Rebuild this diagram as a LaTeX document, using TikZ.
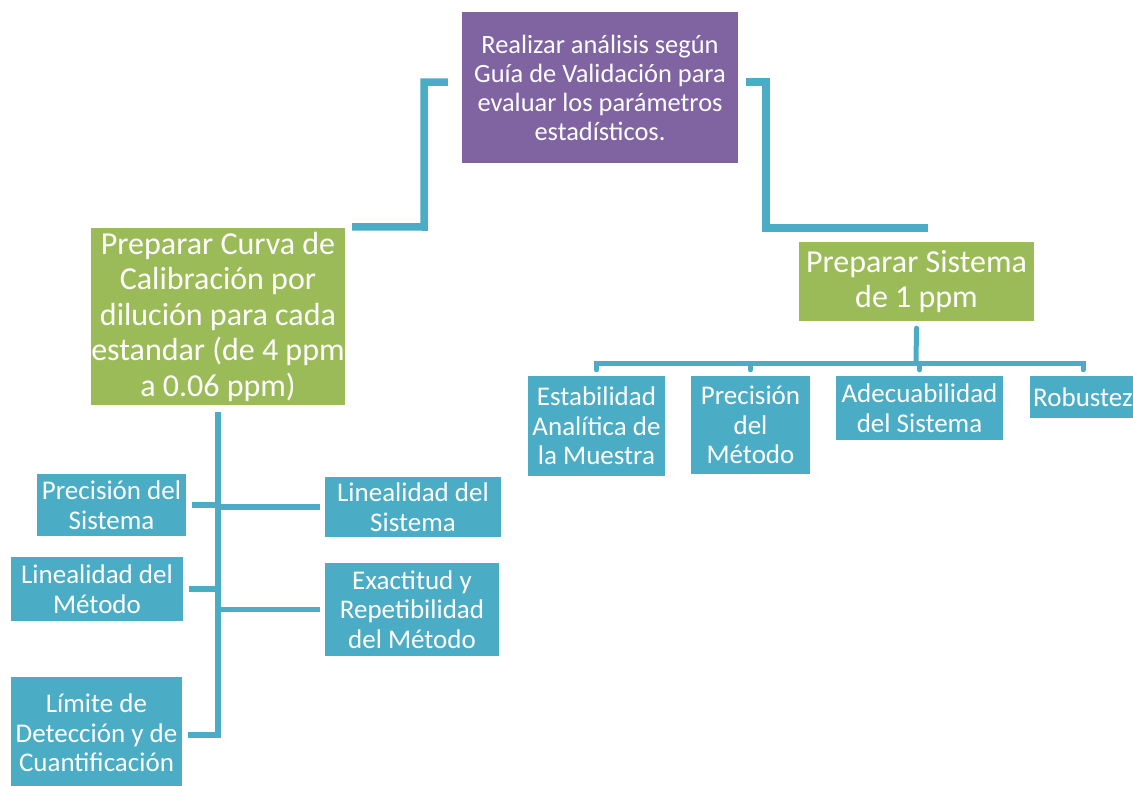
\documentclass[tikz,border=0pt]{standalone}
\usepackage{fontspec}
\setmainfont{Carlito}
\usepackage{tikz}
\usetikzlibrary{positioning, calc}
\definecolor{morado}{HTML}{8064A2}
\definecolor{verde}{HTML}{9BBB59}
\definecolor{aqua}{HTML}{4BACC6}

\begin{document}
\begin{tikzpicture}[x=1pt, y=-1pt,
    caja/.style={fill=aqua, text=white, align=center, inner sep=0pt,
        font=\fontsize{27}{29.5}\selectfont},
    cajaverde/.style={caja, fill=verde, font=\fontsize{32}{35.5}\selectfont},
    cajamorada/.style={caja, fill=morado, font=\fontsize{26.4}{29}\selectfont},
    conector/.style={draw=aqua, line width=7.5pt},
    rama/.style={draw=aqua, line width=5.5pt},
    ramader/.style={draw=aqua, line width=5pt, line cap=round}]
\useasboundingbox (0,0) rectangle (1133,785);

\node[cajamorada, minimum width=276pt, minimum height=151pt] (guia) at (600,87.5)
    {Realizar análisis según\\Guía de Validación para\\evaluar los parámetros\\estadísticos.};
\node[cajaverde, minimum width=254pt, minimum height=177pt] (curva) at (218,316.5)
    {Preparar Curva de\\Calibración por\\dilución para cada\\estandar (de 4 ppm\\a 0.06 ppm)};
\node[cajaverde, minimum width=235pt, minimum height=79pt] (sistema) at (916.5,281.5)
    {Preparar Sistema\\de 1 ppm};

% rama izquierda
\node[caja, minimum width=149pt, minimum height=62pt] (precsis) at (111.5,505) {Precisión del\\Sistema};
\node[caja, minimum width=176pt, minimum height=60pt] (linsis) at (413,507) {Linealidad del\\Sistema};
\node[caja, minimum width=172pt, minimum height=64pt] (linmet) at (97,589) {Linealidad del\\Método};
\node[caja, minimum width=174pt, minimum height=93pt] (exact) at (412,609.5) {Exactitud y\\Repetibilidad\\del Método};
\node[caja, minimum width=171pt, minimum height=112pt] (limite) at (96.5,733) {Límite de\\Detección y de\\Cuantificación};

% rama derecha
\node[caja, minimum width=137pt, minimum height=100pt] (estab) at (596.5,426) {Estabilidad\\Analítica de\\la Muestra};
\node[caja, minimum width=119pt, minimum height=98pt] (precmet) at (750.5,425) {Precisión\\del\\Método};
\node[caja, minimum width=167pt, minimum height=64pt] (adec) at (919.5,408) {Adecuabilidad\\del Sistema};
\node[caja, minimum width=106pt, minimum height=42pt] (robust) at (1083,397) {Robustez};

% conectores superiores
\coordinate (codoizq) at (424,227);
\coordinate (cododer) at (766,228);
\coordinate (finder) at (928,228);
\draw[conector] ([xshift=7pt,yshift=1pt]curva.north east) -- (codoizq)
    |- ([xshift=-14pt,yshift=5.5pt]guia.west);
\draw[conector] ([xshift=8pt,yshift=5.5pt]guia.east) -| (cododer) -- (finder);

% arbol izquierdo
\coordinate (tronco) at (218,735);
\draw[rama] ([yshift=-7pt]curva.south) -- (tronco) -- ([xshift=6pt]limite.east |- tronco);
\draw[rama] ([xshift=6pt]precsis.east) -- (precsis.east -| curva.south);
\draw[rama] ([xshift=6pt]linmet.east) -- (linmet.east -| curva.south);
\draw[rama] ([xshift=-5pt]linsis.west) -- (linsis.west -| curva.south);
\draw[rama] ([xshift=-5pt]exact.west) -- (exact.west -| curva.south);

% arbol derecho
\coordinate (barra) at (916,363);
\draw[ramader] ([yshift=-7pt]sistema.south) -- (barra);
\foreach \hijo in {estab, precmet, adec, robust}
    \draw[ramader] ([yshift=6pt]\hijo.north) |- (barra);
\end{tikzpicture}
\end{document}
